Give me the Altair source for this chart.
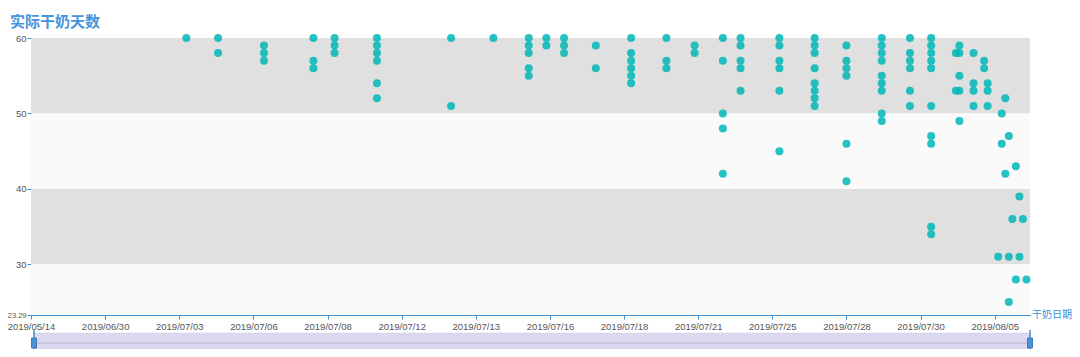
import altair as alt
import pandas as pd

# ---------------- data ----------------
tick_labels = ["2019/05/14", "2019/06/30", "2019/07/03", "2019/07/06", "2019/07/08",
               "2019/07/12", "2019/07/13", "2019/07/16", "2019/07/18", "2019/07/21",
               "2019/07/25", "2019/07/28", "2019/07/30", "2019/08/05"]
label_step = 21          # one label every 21 categories
n_categories = 284       # categories on the x axis

column_index = [44, 53, 66, 80, 86, 98, 119, 131, 141, 146, 151, 160, 170, 180, 188,
                196, 201, 212, 222, 231, 241, 249, 255, 262, 263, 267, 270, 271,
                274, 275, 276, 277, 278, 279, 280, 281, 282]
column_values = [
    [60],
    [60, 58],
    [59, 58, 57],
    [60, 57, 56],
    [60, 59, 58],
    [60, 59, 58, 57, 54, 52],
    [60, 51],
    [60],
    [60, 59, 58, 56, 55],
    [60, 59],
    [60, 59, 58],
    [59, 56],
    [60, 58, 57, 56, 55, 54],
    [60, 57, 56],
    [59, 58],
    [60, 57, 50, 48, 42],
    [60, 59, 57, 56, 53],
    [60, 59, 57, 56, 53, 45],
    [60, 59, 58, 56, 54, 53, 52, 51],
    [59, 57, 56, 55, 46, 41],
    [60, 59, 58, 57, 55, 54, 53, 50, 49],
    [60, 58, 57, 56, 53, 51],
    [60, 59, 58, 57, 56, 51, 47, 46, 35, 34],
    [58, 53],
    [59, 58, 55, 53, 49],
    [58, 54, 53, 51],
    [57, 56],
    [54, 53, 51],
    [31],
    [50, 46],
    [52, 42],
    [47, 31, 25],
    [36],
    [43, 28],
    [39, 31],
    [36],
    [28],
]

y_ticks = [23.29, 30, 40, 50, 60]
y_min, y_max = 23.29, 60
band_low = [50, 40, 30, 23.29]
band_high = [60, 50, 40, 30]
band_fill = ["#e0e0e0", "#fafafa", "#e0e0e0", "#fafafa"]

title_text = "实际干奶天数"
x_name = "干奶日期"

# ---------------- build tables ----------------
rows = []
for idx, vals in zip(column_index, column_values):
    for v in vals:
        rows.append({"idx": idx, "days": v})
df = pd.DataFrame(rows)
bands = pd.DataFrame({"lo": band_low, "hi": band_high, "fill": band_fill})
tick_idx = [i * label_step for i in range(len(tick_labels))]

W, H = 999, 277
BLUE = "#3a8fd6"
CJK = "Noto Sans CJK SC"
LAT = "Liberation Sans"

xscale = alt.Scale(domain=[0, n_categories - 1], nice=False, zero=False)
yscale = alt.Scale(domain=[y_min, y_max], nice=False, zero=False)

label_arr = "[" + ",".join("'%s'" % s for s in tick_labels) + "]"
xaxis = alt.Axis(values=tick_idx, title=None, grid=False,
                 labelExpr=label_arr + "[round(datum.value/%d)]" % label_step,
                 domainColor=BLUE, tickColor=BLUE, tickSize=4,
                 labelColor="#555555", labelFont=LAT, labelFontSize=9.5,
                 labelPadding=2, labelFlush=False, labelOverlap=False)
yaxis = alt.Axis(values=y_ticks, title=None, grid=False,
                 labelExpr="datum.value % 1 == 0 ? format(datum.value, 'd') : format(datum.value, '.2f')",
                 domainColor=BLUE, tickColor=BLUE, tickSize=4,
                 labelColor="#555555", labelFont=LAT,
                 labelFontSize={"condition": {"test": "datum.value < 25", "value": 7.5}, "value": 9.5},
                 labelPadding=1, labelOverlap=False)

one = alt.Data(values=[{"k": 1}])

band_layer = alt.Chart(bands).mark_rect().encode(
    x=alt.value(0), x2=alt.value(W),
    y=alt.Y("lo:Q", scale=yscale, axis=yaxis), y2="hi:Q",
    color=alt.Color("fill:N", scale=None),
)

points = alt.Chart(df).mark_circle(size=64, color="#00b7b7", opacity=0.85).encode(
    x=alt.X("idx:Q", scale=xscale, axis=xaxis),
    y=alt.Y("days:Q", scale=yscale, axis=yaxis),
)

xname_layer = alt.Chart(one).mark_text(
    text=x_name, align="left", baseline="middle", fontSize=10, font=CJK, color=BLUE
).encode(x=alt.value(W + 2), y=alt.value(H))

title_layer = alt.Chart(one).mark_text(
    text=title_text, align="left", baseline="middle", fontSize=15, fontWeight="bold",
    font=CJK, color="#4595da"
).encode(x=alt.value(-21), y=alt.value(-16))

slider_bg = alt.Chart(one).mark_rect(color="#dcd8ef", stroke="#d0cce4", strokeWidth=0.5).encode(
    x=alt.value(3), x2=alt.value(W), y=alt.value(295), y2=alt.value(311)
)
slider_line = alt.Chart(one).mark_rule(color="#b9b4cc", strokeWidth=1).encode(
    x=alt.value(3), x2=alt.value(W), y=alt.value(305)
)
h1_line = alt.Chart(one).mark_rule(color=BLUE, strokeWidth=1.5).encode(
    x=alt.value(3), y=alt.value(292), y2=alt.value(311)
)
h2_line = alt.Chart(one).mark_rule(color=BLUE, strokeWidth=1.5).encode(
    x=alt.value(W), y=alt.value(292), y2=alt.value(311)
)
h1_box = alt.Chart(one).mark_rect(color="#4a93d8", stroke="#2b6fb0", strokeWidth=0.8).encode(
    x=alt.value(0.5), x2=alt.value(5.5), y=alt.value(300), y2=alt.value(310)
)
h2_box = alt.Chart(one).mark_rect(color="#4a93d8", stroke="#2b6fb0", strokeWidth=0.8).encode(
    x=alt.value(W - 2.5), x2=alt.value(W + 2.5), y=alt.value(300), y2=alt.value(310)
)

chart = alt.layer(
    band_layer, points, xname_layer, title_layer,
    slider_bg, slider_line, h1_line, h2_line, h1_box, h2_box
).properties(
    width=W, height=H,
    padding={"left": 23, "top": 30, "right": 42, "bottom": 34},
    autosize=alt.AutoSizeParams(type="none"),
    background="white",
).configure_view(stroke=None)

chart.save("out.html", embed_options={"renderer": "svg", "actions": False})
